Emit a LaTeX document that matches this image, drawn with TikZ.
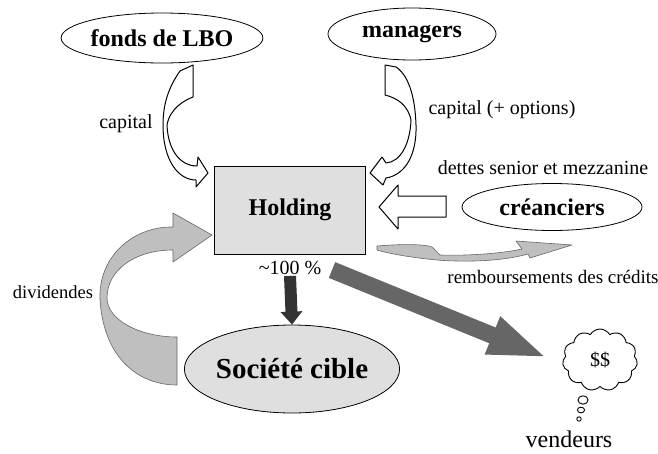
\documentclass[tikz,border=0pt]{standalone}
\usepackage{fontspec}
\setmainfont{Liberation Serif}
\usetikzlibrary{shapes.geometric,shapes.symbols,arrows.meta}

\tikzset{
  lbl/.style={font=\fontsize{20}{24}\selectfont, inner sep=1pt},
  actor/.style={draw, ellipse, line width=0.8pt, inner sep=0pt, font=\fontsize{24}{28}\selectfont\bfseries},
  hollow/.style={draw, line width=1pt, fill=white, line join=round},
  grayarrow/.style={draw=black!60, fill=gray!50, line width=0.6pt, line join=round},
}

\begin{document}
\begin{tikzpicture}[x=1pt,y=-1pt]
      \useasboundingbox (0,0) rectangle (658,453);
      % acteurs
      \node[actor, minimum width=177pt, minimum height=50pt] (fonds) at (162,38) {fonds de LBO};
      \node[actor, minimum width=168pt, minimum height=52pt] (managers) at (412,34) {managers};
      \node[actor, minimum width=180pt, minimum height=47pt] (creanciers) at (552,207) {créanciers};
      \node[draw, line width=0.8pt, fill=gray!25, minimum width=151pt, minimum height=88pt, inner sep=0pt,
            font=\fontsize{24}{28}\selectfont\bfseries] (holding) at (290,210) {Holding};
      \node[actor, fill=gray!25, minimum width=197pt, minimum height=88pt,
            font=\fontsize{29}{34}\selectfont\bfseries] (cible) at (292,369) {Société cible};
      \node[cloud, draw, line width=0.9pt, cloud puffs=11, cloud puff arc=120, aspect=1.2,
            minimum width=75pt, minimum height=62pt, inner sep=0pt, lbl] (argent) at (600,360) {\$\$};
      % bulles
      \draw[line width=0.9pt] (583,400) ellipse [x radius=5pt, y radius=4.2pt];
      \draw[line width=0.9pt] (581,410) ellipse [x radius=3.6pt, y radius=2.8pt];
      \draw[line width=0.9pt] (579,419) circle (2.2pt);
      % textes
      \node[lbl] (capfonds) at (126,124) {capital};
      \node[lbl] (capman) at (502,110) {capital (+ options)};
      \node[lbl] (dettes) at (543,168) {dettes senior et mezzanine};
      \node[lbl, font=\fontsize{19}{23}\selectfont] (rembours) at (553,277) {remboursements des crédits};
      \node[lbl, font=\fontsize{18.5}{22}\selectfont] (divid) at (53,292) {dividendes};
      \node[lbl] (pct) at (290,268) {\textasciitilde100 \%};
      \node[lbl, font=\fontsize{24}{28}\selectfont] (vendeurs) at (569,439) {vendeurs};
      % apports en capital
      \draw[hollow] (180,71) .. controls (168,88) and (163,105) .. (163,125)
            .. controls (163,160) and (178,180) .. (196,180) -- (196,187) -- (208,173) -- (198,157) -- (197,166)
            .. controls (180,166) and (168,150) .. (167,125)
            .. controls (170,108) and (185,100) .. (193,97) -- (193,65) -- cycle;
      \draw[hollow] (385,65) -- (385,95) .. controls (397,98) and (408,105) .. (411,120)
            .. controls (410,145) and (400,162) .. (386,163) -- (382,157) -- (370,173) -- (383,185) -- (386,178)
            .. controls (405,175) and (417,155) .. (416,125)
            .. controls (415,95) and (408,75) .. (396,67) -- cycle;
      % dettes
      \draw[hollow] (446,196) -- (398,196) -- (398,185) -- (379,207) -- (398,229) -- (398,217) -- (446,217) -- cycle;
      % remboursements
      \draw[grayarrow] (377,246) .. controls (400,244) and (425,244) .. (432,247)
            .. controls (436,250) and (437,253) .. (440,255)
            .. controls (470,256) and (505,253) .. (522,249) -- (516,241) -- (572,245) -- (530,258) -- (528,254)
            .. controls (500,262) and (460,262) .. (437,260)
            .. controls (415,258) and (390,254) .. (377,250) -- cycle;
      % dividendes
      \draw[grayarrow] (177,337) -- (177,385) .. controls (140,385) and (104,360) .. (100,300)
            .. controls (98,255) and (135,226) .. (173,227) -- (173,213) -- (212,235) -- (173,262) -- (173,250)
            .. controls (135,250) and (107,270) .. (107,298)
            .. controls (107,320) and (140,337) .. (177,337) -- cycle;
      % participation et prix
      \draw[line width=12pt, black!80, -{Triangle[length=13pt,width=21pt]}] (pct.south) -- (cible.north);
      \coordinate (vstart) at (332,270);
      \coordinate (vtip) at (548,358);
      \draw[line width=17pt, black!60, -{Triangle[length=60pt,width=36pt]}] (vstart) -- (vtip);
    \end{tikzpicture}
\end{document}
